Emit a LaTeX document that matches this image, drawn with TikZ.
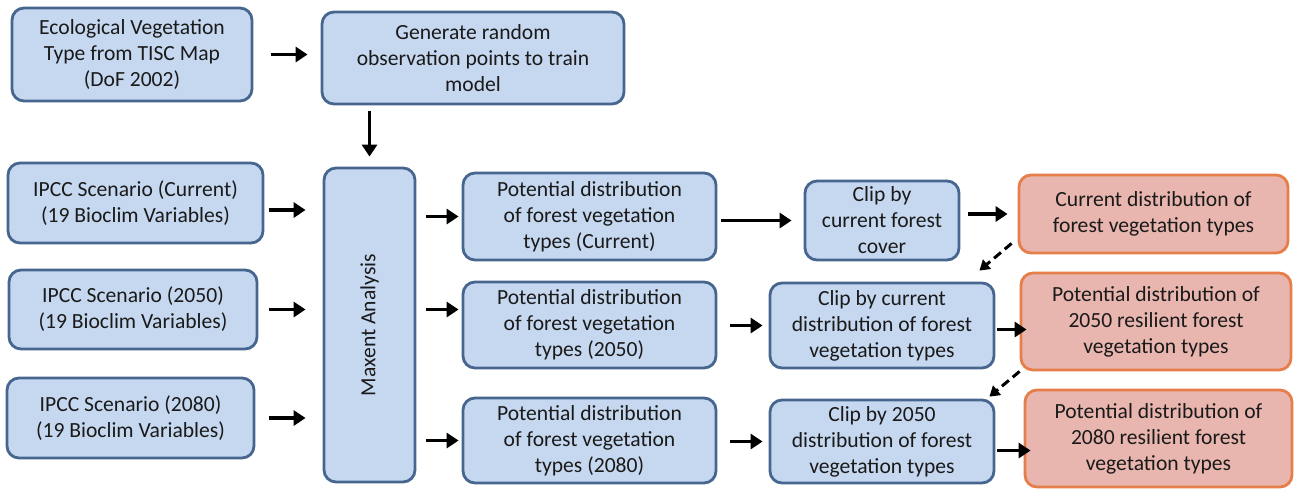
\documentclass[tikz,border=0pt]{standalone}
\usepackage{fontspec}
\setmainfont{Carlito}
\usepackage{tikz}
\usetikzlibrary{arrows.meta,shapes}
\definecolor{boxblue}{HTML}{C6D8F0}
\definecolor{edgeblue}{HTML}{46658F}
\definecolor{boxrose}{HTML}{E8B6AE}
\definecolor{edgeorange}{HTML}{E67E4A}
\definecolor{txtgray}{HTML}{1A1A1A}

\begin{document}
\begin{tikzpicture}[x=0.5pt,y=-0.5pt]
	  \tikzstyle{every node} = [rounded corners=6pt, line width=1.4pt, inner sep=0pt, align=center, text=txtgray, font=\fontsize{10.8}{13}\selectfont]
	  \tikzstyle{blue box} = [draw=edgeblue, fill=boxblue]
	  \tikzstyle{rose box} = [draw=edgeorange, fill=boxrose]
	  \tikzstyle{arr} = [line width=1.9pt, -{Triangle[length=6pt,width=7.5pt]}]
	  \tikzstyle{dash arr} = [line width=1.5pt, dash pattern=on 4.5pt off 2.5pt, -{Triangle[length=5pt,width=6pt]}]
	  \useasboundingbox (0,0) rectangle (1296,489);
	  % inputs
	  \node (eco)[blue box, minimum width=120pt, minimum height=46.5pt] at (132,54.5) {Ecological Vegetation\\Type from TISC Map\\(DoF 2002)};
	  \node (gen)[blue box, minimum width=151pt, minimum height=46pt] at (473,58) {Generate random\\observation points to train\\model};
	  \node (ipcccur)[blue box, minimum width=127.5pt, minimum height=40pt] at (135.5,203) {IPCC Scenario (Current)\\(19 Bioclim Variables)};
	  \node (ipccmid)[blue box, minimum width=124pt, minimum height=39.5pt] at (133,309.5) {IPCC Scenario (2050)\\(19 Bioclim Variables)};
	  \node (ipcclate)[blue box, minimum width=123.5pt, minimum height=40pt] at (130.5,418) {IPCC Scenario (2080)\\(19 Bioclim Variables)};
	  \node (max)[blue box, minimum width=45.5pt, minimum height=157pt] at (369.5,325) {};
	  \node[rotate=90] at (max) {Maxent Analysis};
	  % potential distributions
	  \node (potcur)[blue box, minimum width=126.5pt, minimum height=43.5pt] at (589.5,216.5) {Potential distribution\\of forest vegetation\\types (Current)};
	  \node (potmid)[blue box, minimum width=126.5pt, minimum height=43pt] at (589.5,325) {Potential distribution\\of forest vegetation\\types (2050)};
	  \node (potlate)[blue box, minimum width=126.5pt, minimum height=42.5pt] at (589.5,440.5) {Potential distribution\\of forest vegetation\\types (2080)};
	  % clipping
	  \node (clipcur)[blue box, minimum width=77pt, minimum height=39.5pt] at (882,220.5) {Clip by\\current forest\\cover};
	  \node (clipmid)[blue box, minimum width=112pt, minimum height=42.5pt] at (882,325.5) {Clip by current\\distribution of forest\\vegetation types};
	  \node (cliplate)[blue box, minimum width=112pt, minimum height=41.5pt] at (882,441.5) {Clip by 2050\\distribution of forest\\vegetation types};
	  % results
	  \node (rescur)[rose box, minimum width=134.5pt, minimum height=39pt] at (1153.5,214) {Current distribution of\\forest vegetation types};
	  \node (resmid)[rose box, minimum width=135pt, minimum height=48.5pt] at (1156,321.5) {Potential distribution of\\2050 resilient forest\\vegetation types};
	  \node (reslate)[rose box, minimum width=133.5pt, minimum height=48.5pt] at (1158.5,438.5) {Potential distribution of\\2080 resilient forest\\vegetation types};

	  \draw[arr, shorten <=9pt, shorten >=6.5pt] (eco.east) -- (eco.east -| gen.west);
	  \draw[arr, shorten <=3pt, shorten >=5pt] (max.north |- gen.south) -- (max.north);
	  \foreach \s/\dy in {cur/3.5,mid/0,late/0}
	    \draw[arr, shorten >=8.5pt] ([xshift=-27pt,yshift=-\dy pt]max.west |- ipcc\s) -- ([yshift=-\dy pt]max.west |- ipcc\s);
	  \draw[arr, shorten <=5pt, shorten >=1.5pt] (potcur.west -| max.east) -- (potcur.west);
	  \draw[arr, shorten <=5pt, shorten >=1.5pt] (max.east |- ipccmid) -- (potmid.west |- ipccmid);
	  \draw[arr, shorten <=5pt, shorten >=1.5pt] (potlate.west -| max.east) -- (potlate.west);
	  \draw[arr, shorten <=2pt, shorten >=6pt] (potcur.east |- clipcur) -- (clipcur.west);
	  \draw[arr, shorten <=4pt, shorten >=5pt] (clipcur.east |- rescur) -- (rescur.west);
	  \foreach \s/\dy in {mid/2,late/4.5} {
	    \draw[arr, shorten <=6.5pt, shorten >=3pt] (pot\s.east |- clip\s) -- (clip\s.west);
	    \draw[arr, shorten <=1pt, shorten >=-3.5pt] ([yshift=-\dy pt]clip\s.east) -- ([yshift=-\dy pt]clip\s.east -| res\s.west);
	  }
	  \draw[dash arr] ([xshift=-3pt,yshift=5.5pt]rescur.south west) -- ([xshift=-8pt,yshift=5.5pt]clipmid.north east);
	  \draw[dash arr] (resmid.south west) -- ([xshift=-3pt,yshift=1pt]cliplate.north east);
	\end{tikzpicture}
\end{document}
